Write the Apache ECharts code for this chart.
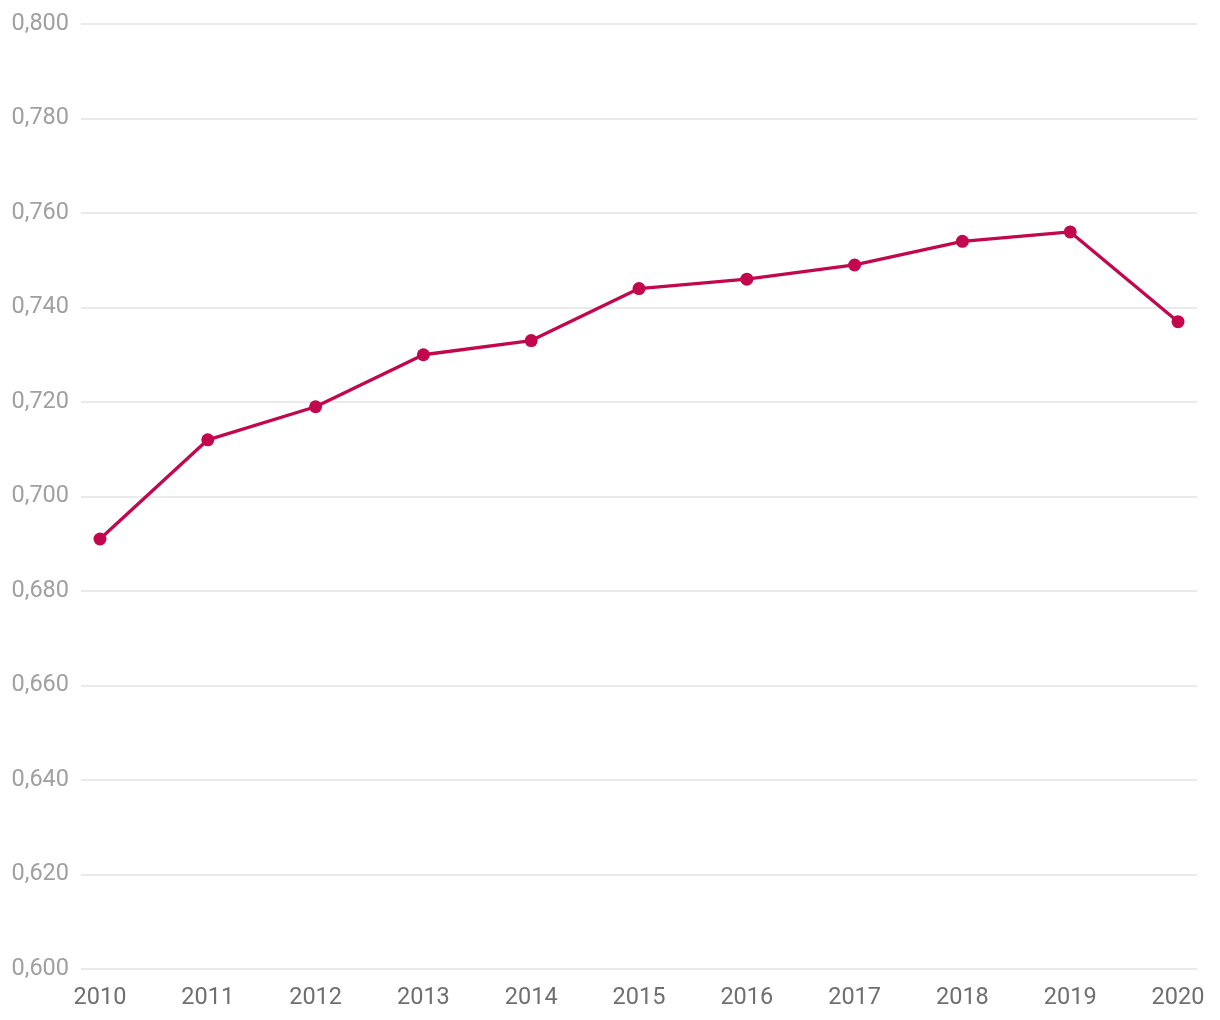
<!DOCTYPE html>
<html>
<head>
<meta charset="utf-8">
<script src="https://cdn.jsdelivr.net/npm/echarts@6/dist/echarts.min.js"></script>
<style>html,body{margin:0;padding:0;background:#fff;}#c{width:1220px;height:1020px;}</style>
</head>
<body>
<div id="c"></div>
<script>
const years = [2010, 2011, 2012, 2013, 2014, 2015, 2016, 2017, 2018, 2019, 2020];
const values = [0.691, 0.712, 0.719, 0.730, 0.733, 0.744, 0.746, 0.749, 0.754, 0.756, 0.737];
const yTicks = [0.600, 0.620, 0.640, 0.660, 0.680, 0.700, 0.720, 0.740, 0.760, 0.780, 0.800];

const chart = echarts.init(document.getElementById('c'), null, {renderer: 'canvas'});
chart.setOption({
  animation: false,
  backgroundColor: '#fff',
  grid: {left: 81, right: 23, top: 24, bottom: 51, containLabel: false},
  xAxis: {
    type: 'value',
    min: 2009.824,
    max: 2020.176,
    axisLine: {show: false},
    axisTick: {show: false},
    splitLine: {show: false},
    axisLabel: {
      customValues: years,
      formatter: v => String(v),
      color: '#6f6f6f',
      fontSize: 23.5,
      fontFamily: 'Roboto',
      margin: 17
    }
  },
  yAxis: {
    type: 'value',
    min: 0.6,
    max: 0.8,
    interval: 0.02,
    axisLine: {show: false},
    axisTick: {show: false},
    splitLine: {lineStyle: {color: '#e3e3e3', width: 1.5}},
    axisLabel: {
      customValues: yTicks,
      formatter: v => v.toFixed(3).replace('.', ','),
      color: '#a0a0a0',
      fontSize: 23.5,
      fontFamily: 'Roboto',
      margin: 12
    }
  },
  series: [{
    type: 'line',
    data: years.map((y, i) => [y, values[i]]),
    symbol: 'circle',
    symbolSize: 13,
    showSymbol: true,
    lineStyle: {color: '#c2074f', width: 3.3},
    itemStyle: {color: '#c2074f'}
  }]
});
</script>
</body>
</html>
